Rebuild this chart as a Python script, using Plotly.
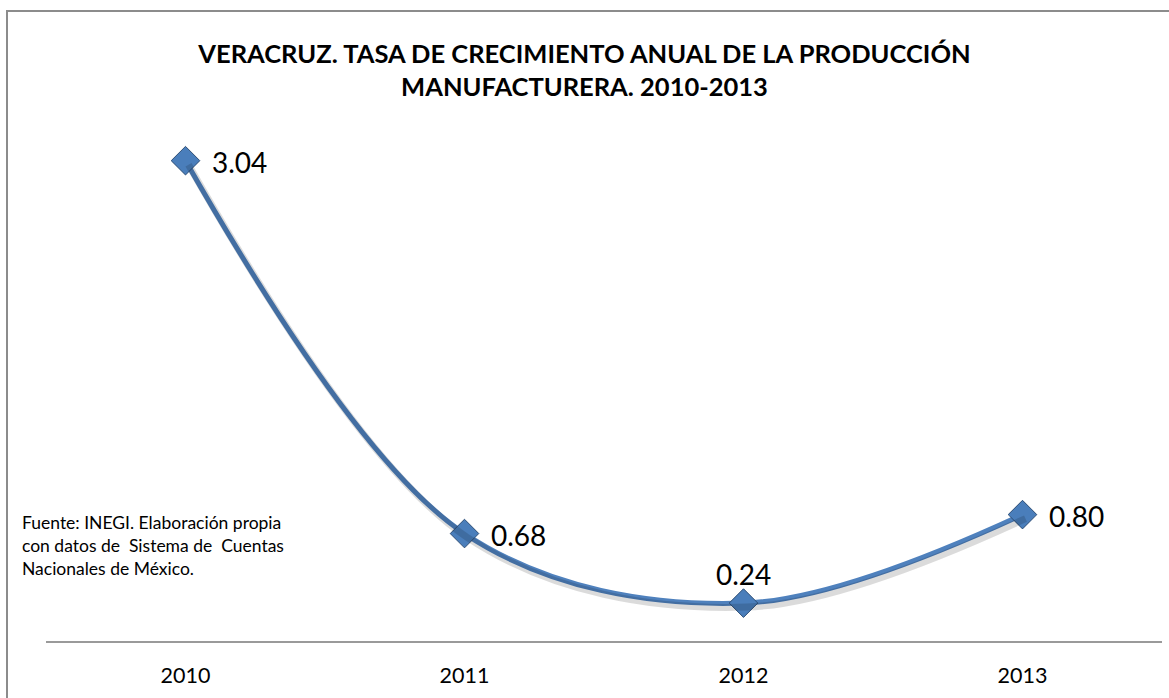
import plotly.graph_objects as go

years = ["2010", "2011", "2012", "2013"]
tasa = [3.04, 0.68, 0.24, 0.80]
labels = ["3.04", "0.68", "0.24", "0.80"]

title_text = "<b>VERACRUZ. TASA DE CRECIMIENTO ANUAL DE LA PRODUCCIÓN<br>MANUFACTURERA. 2010-2013</b>"
source_text = "Fuente: INEGI. Elaboración propia<br>con datos de  Sistema de  Cuentas<br>Nacionales de México."

FONT = "Lato"
BLUE = "#4F81BD"

fig = go.Figure()

# soft shadow of the line
fig.add_trace(go.Scatter(
    x=years, y=tasa, xaxis="x2", yaxis="y2", mode="lines",
    line=dict(shape="spline", smoothing=1.0, color="rgba(0,0,0,0.14)", width=7),
    hoverinfo="skip", showlegend=False,
))

fig.add_trace(go.Scatter(
    x=years, y=tasa, mode="lines+markers",
    line=dict(shape="spline", smoothing=1.0, color=BLUE, width=5),
    marker=dict(symbol="diamond", size=22, color="#4A7EBB",
                line=dict(color="#2C4D75", width=1)),
    showlegend=False,
))

W, H = 1169, 698
L, R, T, B = 46, 1162, 88, 641
pw, ph = R - L, B - T
YMAX = 3.5
dx = 3 * 4.0 / pw
dy = 4 * YMAX / ph

def px(p):
    return (p - L) / pw

def py(p):
    return (B - p) / ph

annots = []
for i, (v, lab) in enumerate(zip(tasa, labels)):
    if i == 2:
        annots.append(dict(x=i, y=v, xref="x", yref="y", text=lab, showarrow=False,
                           xanchor="center", yanchor="bottom", yshift=10,
                           font=dict(family=FONT, size=28, color="#000000")))
    else:
        annots.append(dict(x=i, y=v, xref="x", yref="y", text=lab, showarrow=False,
                           xanchor="left", yanchor="middle", xshift=24, yshift=-1,
                           font=dict(family=FONT, size=28, color="#000000")))

annots.append(dict(text=source_text, xref="paper", yref="paper",
                   x=px(20), y=py(510), xanchor="left", yanchor="top", align="left",
                   showarrow=False, font=dict(family=FONT, size=17.5, color="#000000")))

fig.update_layout(
    width=W, height=H,
    margin=dict(l=L, r=W - R, t=T, b=H - B),
    paper_bgcolor="white", plot_bgcolor="white",
    font=dict(family=FONT, color="#000000"),
    title=dict(text=title_text, x=0.5, xanchor="center", y=1 - 63 / H, yanchor="middle",
               font=dict(family=FONT, size=25.5, color="#000000")),
    xaxis=dict(type="category", range=[-0.5, 3.5], showgrid=False, zeroline=False,
               showline=True, linecolor="#9A9A9A", linewidth=2, ticks="",
               tickfont=dict(family=FONT, size=21.5, color="#000000"), ticklabelstandoff=14),
    yaxis=dict(range=[0, YMAX], showgrid=False, zeroline=False, showticklabels=False,
               showline=False, ticks=""),
    xaxis2=dict(type="category", range=[-0.5 - dx, 3.5 - dx], overlaying="x",
                anchor="y2", visible=False),
    yaxis2=dict(range=[dy, YMAX + dy], overlaying="y", anchor="x2", visible=False),
    shapes=[dict(type="rect", xref="paper", yref="paper",
                 x0=px(7), x1=px(1175), y0=py(705), y1=py(11),
                 line=dict(color="#8C8C8C", width=2), fillcolor="rgba(0,0,0,0)", layer="below")],
    annotations=annots,
)

fig.write_html("out.html", config={"displayModeBar": False})

with open("out.html", "r", encoding="utf-8") as f:
    html = f.read()
html = html.replace("<body>", '<body style="margin:0;padding:0;overflow:hidden">', 1)
with open("out.html", "w", encoding="utf-8") as f:
    f.write(html)
